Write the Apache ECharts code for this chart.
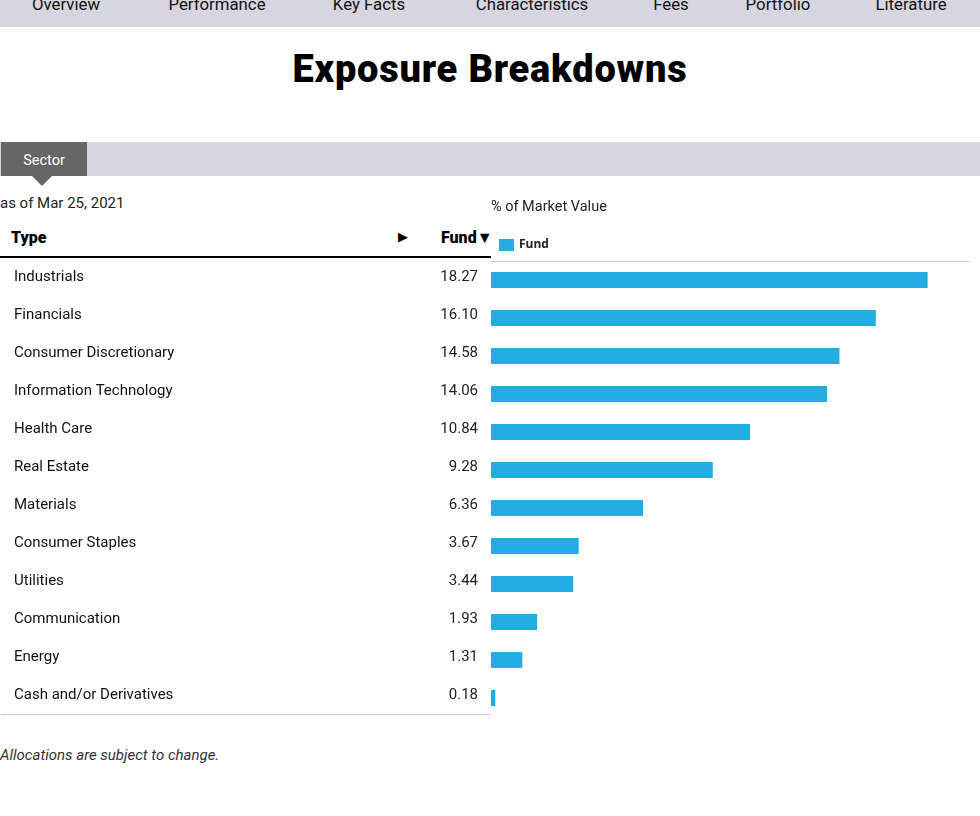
<!DOCTYPE html>
<html>
<head>
<meta charset="utf-8">
<script src="https://cdn.jsdelivr.net/npm/echarts@6/dist/echarts.min.js"></script>
<style>
  body { margin:0; width:980px; height:816px; position:relative; overflow:hidden; background:#fff;
         font-family: Roboto, sans-serif; color:#000; }
  .abs { position:absolute; white-space:nowrap; }
  #nav { left:0; top:0; width:980px; height:27px; background:#d7d6e0; }
  .navi { top:-6px; font-size:16.8px; color:#111; transform:translateX(-50%); }
  #title { left:0; width:980px; top:47px; text-align:center; font-size:38px; font-weight:900; letter-spacing:0.8px; }
  #band { left:0; top:142px; width:980px; height:34px; background:#d7d6e0; }
  #tab { left:1px; top:142px; width:86px; height:34px; background:#666; color:#fff; font-size:14.5px; line-height:38px; text-align:center; }
  #tri { left:32px; top:176px; width:0; height:0; border-left:10px solid transparent; border-right:10px solid transparent; border-top:10px solid #666; }
  #asof { left:0; top:194px; font-size:15px; color:#222; }
  #hType { left:11px; top:228px; font-size:16px; font-weight:900; }
  #hArrow { left:398px; top:229px; font-size:13px; }
  #hFund { left:441px; top:228px; font-size:16px; font-weight:900; }
  #hline { left:0; top:256px; width:491px; height:2px; background:#000; }
  #bline { left:1px; top:714px; width:490px; height:1px; background:#ccc; }
  #note { left:0; top:746px; font-size:15px; font-style:italic; color:#333; }
  #main { left:0; top:190px; width:980px; height:560px; }
</style>
</head>
<body>
<div id="nav" class="abs"></div>
<span class="abs navi" style="left:66px">Overview</span>
<span class="abs navi" style="left:217px">Performance</span>
<span class="abs navi" style="left:369px">Key Facts</span>
<span class="abs navi" style="left:532px">Characteristics</span>
<span class="abs navi" style="left:671px">Fees</span>
<span class="abs navi" style="left:778px">Portfolio</span>
<span class="abs navi" style="left:911px">Literature</span>
<div id="title" class="abs">Exposure Breakdowns</div>
<div id="band" class="abs"></div>
<div id="tab" class="abs">Sector</div>
<div id="tri" class="abs"></div>
<div id="asof" class="abs">as of Mar 25, 2021</div>
<div id="hType" class="abs">Type</div>
<div id="hArrow" class="abs">&#9654;</div>
<div id="hFund" class="abs">Fund&#9660;</div>
<div id="hline" class="abs"></div>
<div id="bline" class="abs"></div>
<div id="note" class="abs">Allocations are subject to change.</div>
<div id="main" class="abs"></div>
<script>
// 行业分类
var sectors = ['Industrials','Financials','Consumer Discretionary','Information Technology','Health Care',
               'Real Estate','Materials','Consumer Staples','Utilities','Communication','Energy','Cash and/or Derivatives'];
// 基金占比 (%)
var fund = [18.27, 16.10, 14.58, 14.06, 10.84, 9.28, 6.36, 3.67, 3.44, 1.93, 1.31, 0.18];

var myChart = echarts.init(document.getElementById('main'));

var option = {
    animation: false,
    title: {
        text: '% of Market Value',
        left: 486, top: 5,
        textStyle: { fontSize: 14.5, fontWeight: 'normal', color: '#222', fontFamily: 'Roboto' }
    },
    legend: {
        data: ['Fund'],
        left: 494, top: 44,
        icon: 'rect',
        itemWidth: 15, itemHeight: 12, itemGap: 6,
        textStyle: { fontSize: 12, fontWeight: 'bold', color: '#222', fontFamily: 'Open Sans' }
    },
    grid: { left: 491, top: 71, width: 478, height: 456 },
    xAxis: {
        type: 'value', position: 'top', min: 0, max: 20,
        axisLine: { show: true, lineStyle: { color: '#ccc' } },
        axisTick: { show: false }, axisLabel: { show: false }, splitLine: { show: false }
    },
    yAxis: {
        type: 'category', inverse: true, data: sectors,
        axisLine: { show: false }, axisTick: { show: false },
        axisLabel: {
            margin: 13,
            padding: [0, 0, 6, 0],
            formatter: function (v, i) {
                return '{n|' + v + '}{v|' + fund[i].toFixed(2) + '}';
            },
            rich: {
                n: { width: 420, align: 'left', fontSize: 15, color: '#111', fontFamily: 'Roboto' },
                v: { width: 44, align: 'right', fontSize: 15, color: '#222', fontFamily: 'Roboto' }
            }
        }
    },
    series: [{
        name: 'Fund', type: 'bar', data: fund,
        barWidth: 16,
        itemStyle: { color: '#23ade2' }
    }]
};
myChart.setOption(option);
</script>
</body>
</html>
